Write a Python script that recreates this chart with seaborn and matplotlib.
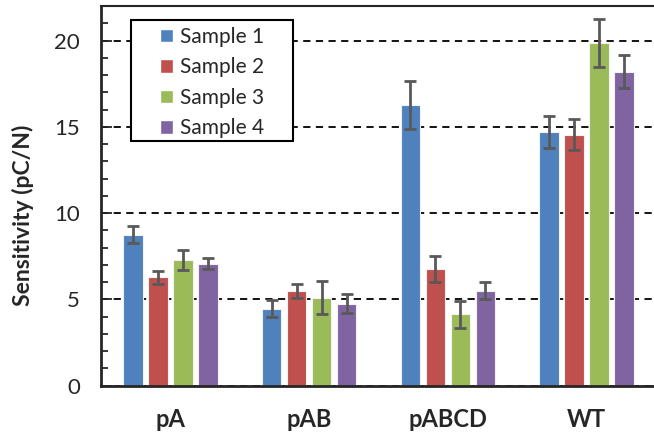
import matplotlib
matplotlib.use('Agg')
import matplotlib.pyplot as plt
from matplotlib.patches import Rectangle
from matplotlib.ticker import MultipleLocator
import seaborn as sns
import pandas as pd

groups = ['pA', 'pAB', 'pABCD', 'WT']
samples = ['Sample 1', 'Sample 2', 'Sample 3', 'Sample 4']
sample1 = [8.75, 4.46, 16.25, 14.71]
sample2 = [6.28, 5.49, 6.75, 14.55]
sample3 = [7.29, 5.10, 4.14, 19.85]
sample4 = [7.06, 4.75, 5.51, 18.20]
err1 = [0.48, 0.48, 1.40, 0.92]
err2 = [0.38, 0.42, 0.76, 0.90]
err3 = [0.58, 0.97, 0.77, 1.37]
err4 = [0.32, 0.55, 0.50, 0.97]
colors = ['#4F81BD', '#C0504D', '#9BBB59', '#8064A2']

means = [sample1, sample2, sample3, sample4]
errs = [err1, err2, err3, err4]
df = pd.DataFrame({
    'group': groups * 4,
    'sample': [s for s in samples for _ in groups],
    'value': sample1 + sample2 + sample3 + sample4,
})

sns.set_style('ticks')
plt.rcParams['font.family'] = ['Lato', 'DejaVu Sans']

fig = plt.figure(figsize=(6.54, 4.34), dpi=100)
ax = fig.add_axes([101 / 654, 48.3 / 434, 555 / 654, 379.7 / 434])

sns.barplot(data=df, x='group', y='value', hue='sample', palette=colors,
            width=0.72, gap=0.22, edgecolor='#f2f2f2', linewidth=0.8,
            saturation=1, legend=False, ax=ax)

for cont, e in zip(ax.containers, errs):
    xs = [b.get_x() + b.get_width() / 2 for b in cont]
    hs = [b.get_height() for b in cont]
    ax.errorbar(xs, hs, yerr=e, fmt='none', ecolor='#595959', elinewidth=2,
                capsize=4, capthick=2, zorder=5)

ax.set_xlim(-0.5, 3.5)
ax.set_ylim(0, 22)
ax.yaxis.set_major_locator(MultipleLocator(5))
ax.yaxis.set_minor_locator(MultipleLocator(1))
ax.set_yticks([0, 5, 10, 15, 20])
ax.tick_params(axis='y', which='major', direction='in', length=8, width=1.3,
               labelsize=16, pad=15)
ax.tick_params(axis='y', which='minor', direction='in', length=5, width=1.3)
ax.tick_params(axis='x', length=0, pad=16)
for lbl in ax.get_xticklabels():
    lbl.set_fontweight('bold')
    lbl.set_fontsize(17)

ax.set_axisbelow(True)
ax.yaxis.grid(True, which='major', color='black', linestyle=(0, (4, 3)), linewidth=1.3)
ax.set_xlabel('')
ax.set_ylabel('Sensitivity (pC/N)', fontsize=16.5, fontweight='bold')
ax.yaxis.set_label_coords(-0.12, 0.45)

for side in ['left', 'bottom']:
    ax.spines[side].set_linewidth(2)
ax.spines['top'].set_linewidth(1.5)
ax.spines['right'].set_visible(False)

# legend with a separate square frame
ax.add_patch(Rectangle((131, 434 - 141), 162, 121, transform=None, facecolor='white',
                       edgecolor='black', linewidth=1.5, zorder=4))
handles = [Rectangle((0, 0), 1, 1, facecolor=c) for c in colors]
leg = ax.legend(handles, samples, loc='upper left', frameon=False,
                bbox_to_anchor=(160 / 654, 1 - 27 / 434), bbox_transform=fig.transFigure,
                borderaxespad=0, borderpad=0, fontsize=15, handlelength=0.6,
                handleheight=0.6, handletextpad=0.35, labelspacing=0.5)
leg.set_zorder(6)

fig.savefig('out.png', dpi=100)
